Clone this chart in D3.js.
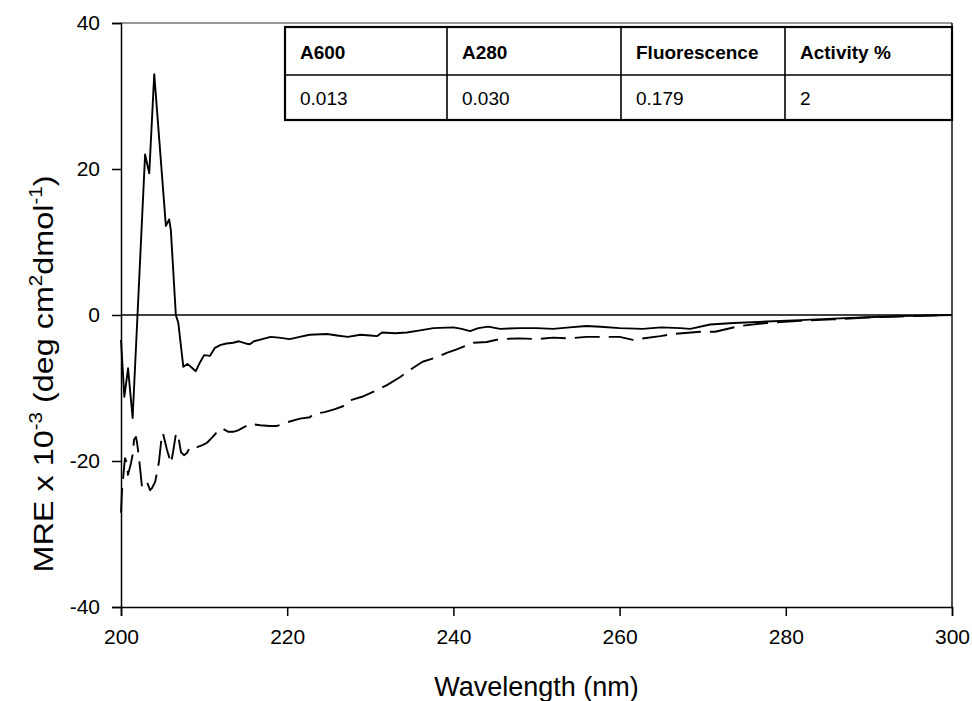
<!DOCTYPE html>
<html>
<head>
<meta charset="utf-8">
<script src="https://cdn.jsdelivr.net/npm/d3@7"></script>
<style>
  html, body { margin: 0; padding: 0; background: #fff; }
  svg { display: block; font-family: "Liberation Sans", Arial, sans-serif; }
</style>
</head>
<body>
<svg id="chart" width="972" height="701"></svg>
<script>
// CD spectrum, solid trace
const solidWavelength = [200.0, 200.4, 200.85, 201.4, 202.9, 203.4, 204.0, 205.4, 205.8, 206.0, 206.6, 206.9,
  207.5, 208.0, 208.5, 209.0, 209.5, 210.0, 210.7, 211.3, 212.0, 212.7, 213.5, 214.2, 215.0, 215.5, 216.0,
  217.0, 218.0, 219.0, 220.3, 221.5, 222.7, 224.8, 226.0, 227.3, 228.8, 230.0, 230.8, 231.4, 233.0, 234.4,
  236.0, 237.6, 240.0, 241.0, 242.0, 243.0, 244.2, 245.6, 248.0, 250.0, 252.0, 254.0, 256.0, 257.7, 260.0,
  262.8, 265.0, 267.3, 268.5, 270.9, 273.7, 277.7, 281.7, 285.7, 289.8, 293.7, 300.0];
const solidMre = [-3.4, -11.2, -7.3, -14.1, 22.0, 19.4, 33.0, 12.2, 13.1, 11.6, 0.0, -1.1,
  -7.1, -6.7, -7.2, -7.7, -6.5, -5.5, -5.6, -4.5, -4.1, -3.9, -3.8, -3.6, -3.9, -4.0, -3.6,
  -3.3, -3.0, -3.1, -3.3, -3.0, -2.7, -2.6, -2.8, -3.0, -2.7, -2.8, -2.9, -2.4, -2.5, -2.4,
  -2.1, -1.8, -1.7, -1.9, -2.2, -1.8, -1.6, -1.9, -1.8, -1.8, -1.9, -1.7, -1.5, -1.6, -1.8,
  -1.9, -1.7, -1.8, -1.9, -1.3, -1.1, -0.9, -0.7, -0.5, -0.3, -0.15, 0.0];

// CD spectrum, dashed trace
const dashedWavelength = [200.0, 200.12, 200.48, 200.72, 200.84, 201.2, 201.44, 201.56, 201.8, 201.93, 202.17,
  202.53, 203.13, 203.5, 203.73, 204.1, 204.33, 204.57, 204.93, 205.05, 205.54, 206.02, 206.26, 206.62,
  206.86, 207.22, 207.58, 207.94, 208.3, 209.15, 209.87, 210.35, 210.95, 211.43, 212.15, 212.88, 213.5,
  214.08, 214.92, 215.52, 216.73, 217.93, 218.77, 219.98, 221.54, 222.74, 223.1, 224.5, 225.75, 226.7,
  227.3, 229.0, 230.6, 232.0, 233.6, 234.8, 236.3, 238.0, 239.2, 240.4, 242.4, 244.0, 245.6, 248.0,
  250.0, 252.0, 254.0, 256.0, 258.0, 260.0, 261.6, 264.9, 266.4, 269.7, 271.5, 274.5, 277.7, 281.7,
  285.7, 289.8, 293.7, 300.0];
const dashedMre = [-27.1, -24.0, -19.6, -20.3, -21.9, -20.3, -18.9, -17.1, -16.7, -17.5, -19.6,
  -23.6, -22.9, -24.0, -23.7, -22.9, -21.6, -20.1, -16.3, -16.2, -18.5, -20.3, -18.8, -16.2,
  -16.4, -18.8, -19.2, -18.9, -18.1, -18.1, -17.8, -17.5, -16.8, -16.2, -15.5, -16.0, -16.0,
  -15.8, -15.3, -14.9, -15.1, -15.2, -15.2, -14.7, -14.2, -14.0, -13.6, -13.3, -12.9, -12.5,
  -11.8, -11.2, -10.4, -9.6, -8.5, -7.5, -6.4, -5.8, -5.2, -4.7, -3.8, -3.7, -3.3, -3.2,
  -3.3, -3.1, -3.2, -3.0, -3.0, -3.0, -3.4, -2.9, -2.6, -2.3, -2.3, -1.5, -1.1, -0.8,
  -0.6, -0.35, -0.2, 0.0];

// Axis ticks
const xTicks = [200, 220, 240, 260, 280, 300];
const yTicks = [-40, -20, 0, 20, 40];

// Inset table
const tableHeaders = ["A600", "A280", "Fluorescence", "Activity %"];
const tableValues = ["0.013", "0.030", "0.179", "2"];

const svg = d3.select("#chart");
const margin = { left: 121, right: 20, top: 23, bottom: 94 };
const W = 972, H = 701;

const x = d3.scaleLinear().domain([200, 300]).range([margin.left, W - margin.right]);
const y = d3.scaleLinear().domain([-40, 40]).range([H - margin.bottom, margin.top]);

// Frame (top and right)
svg.append("line")
  .attr("x1", x(200)).attr("x2", x(300)).attr("y1", y(40)).attr("y2", y(40))
  .attr("stroke", "#333").attr("stroke-width", 1.2);
svg.append("line")
  .attr("x1", x(300)).attr("x2", x(300)).attr("y1", y(40)).attr("y2", y(-40))
  .attr("stroke", "#111").attr("stroke-width", 1.5);

// Zero reference line
svg.append("line")
  .attr("x1", x(200)).attr("x2", x(300)).attr("y1", y(0)).attr("y2", y(0))
  .attr("stroke", "#000").attr("stroke-width", 1.5);

// Axes
const xAxis = svg.append("g")
  .attr("transform", `translate(0,${y(-40)})`)
  .call(d3.axisBottom(x).tickValues(xTicks).tickSize(9).tickPadding(13).tickFormat(d => String(d)));
const yAxis = svg.append("g")
  .attr("transform", `translate(${x(200)},0)`)
  .call(d3.axisLeft(y).tickValues(yTicks).tickSize(9).tickPadding(12).tickFormat(d => String(d)));

[xAxis, yAxis].forEach(g => {
  g.select(".domain").attr("stroke", "#000").attr("stroke-width", 1.5);
  g.selectAll(".tick line").attr("stroke", "#000").attr("stroke-width", 1.5);
  g.selectAll(".tick text")
    .attr("fill", "#000")
    .style("font-family", "'Liberation Sans', Arial, sans-serif")
    .style("font-size", "21px");
});

// Traces
const solidData = solidWavelength.map((w, i) => [w, solidMre[i]]);
const dashedData = dashedWavelength.map((w, i) => [w, dashedMre[i]]);
const line = d3.line().x(d => x(d[0])).y(d => y(d[1]));

svg.append("path")
  .datum(dashedData)
  .attr("d", line)
  .attr("fill", "none")
  .attr("stroke", "#000")
  .attr("stroke-width", 1.9)
  .attr("stroke-dasharray", "25,9")
  .attr("stroke-linejoin", "round");

svg.append("path")
  .datum(solidData)
  .attr("d", line)
  .attr("fill", "none")
  .attr("stroke", "#000")
  .attr("stroke-width", 1.9)
  .attr("stroke-linejoin", "round");

// Axis titles
svg.append("text")
  .attr("x", (x(200) + x(300)) / 2)
  .attr("y", 696)
  .attr("text-anchor", "middle")
  .style("font-size", "27px")
  .text("Wavelength (nm)");

const yTitle = svg.append("text")
  .attr("transform", `translate(53,374) rotate(-90) scale(1.08,0.92)`)
  .attr("text-anchor", "middle")
  .style("font-size", "30px");
yTitle.append("tspan").text("MRE x 10");
yTitle.append("tspan").attr("dy", -12).style("font-size", "19px").text("-3");
yTitle.append("tspan").attr("dy", 12).text(" (deg cm");
yTitle.append("tspan").attr("dy", -12).style("font-size", "19px").text("2");
yTitle.append("tspan").attr("dy", 12).text("dmol");
yTitle.append("tspan").attr("dy", -12).style("font-size", "19px").text("-1");
yTitle.append("tspan").attr("dy", 12).text(")");

// Inset table
const colEdges = [285, 447, 621, 785, 952];
const rowEdges = [27, 75, 120];
const table = svg.append("g");
table.append("rect")
  .attr("x", colEdges[0]).attr("y", rowEdges[0])
  .attr("width", colEdges[4] - colEdges[0]).attr("height", rowEdges[2] - rowEdges[0])
  .attr("fill", "#fff").attr("stroke", "#000").attr("stroke-width", 2.2);
table.append("line")
  .attr("x1", colEdges[0]).attr("x2", colEdges[4]).attr("y1", rowEdges[1]).attr("y2", rowEdges[1])
  .attr("stroke", "#000").attr("stroke-width", 1.6);
colEdges.slice(1, 4).forEach(cx => {
  table.append("line")
    .attr("x1", cx).attr("x2", cx).attr("y1", rowEdges[0]).attr("y2", rowEdges[2])
    .attr("stroke", "#000").attr("stroke-width", 1.6);
});
tableHeaders.forEach((t, i) => {
  table.append("text")
    .attr("x", colEdges[i] + 15).attr("y", 59)
    .style("font-size", "19px").style("font-weight", "bold")
    .text(t);
});
tableValues.forEach((t, i) => {
  table.append("text")
    .attr("x", colEdges[i] + 15).attr("y", 105)
    .style("font-size", "19px")
    .text(t);
});
</script>
</body>
</html>
